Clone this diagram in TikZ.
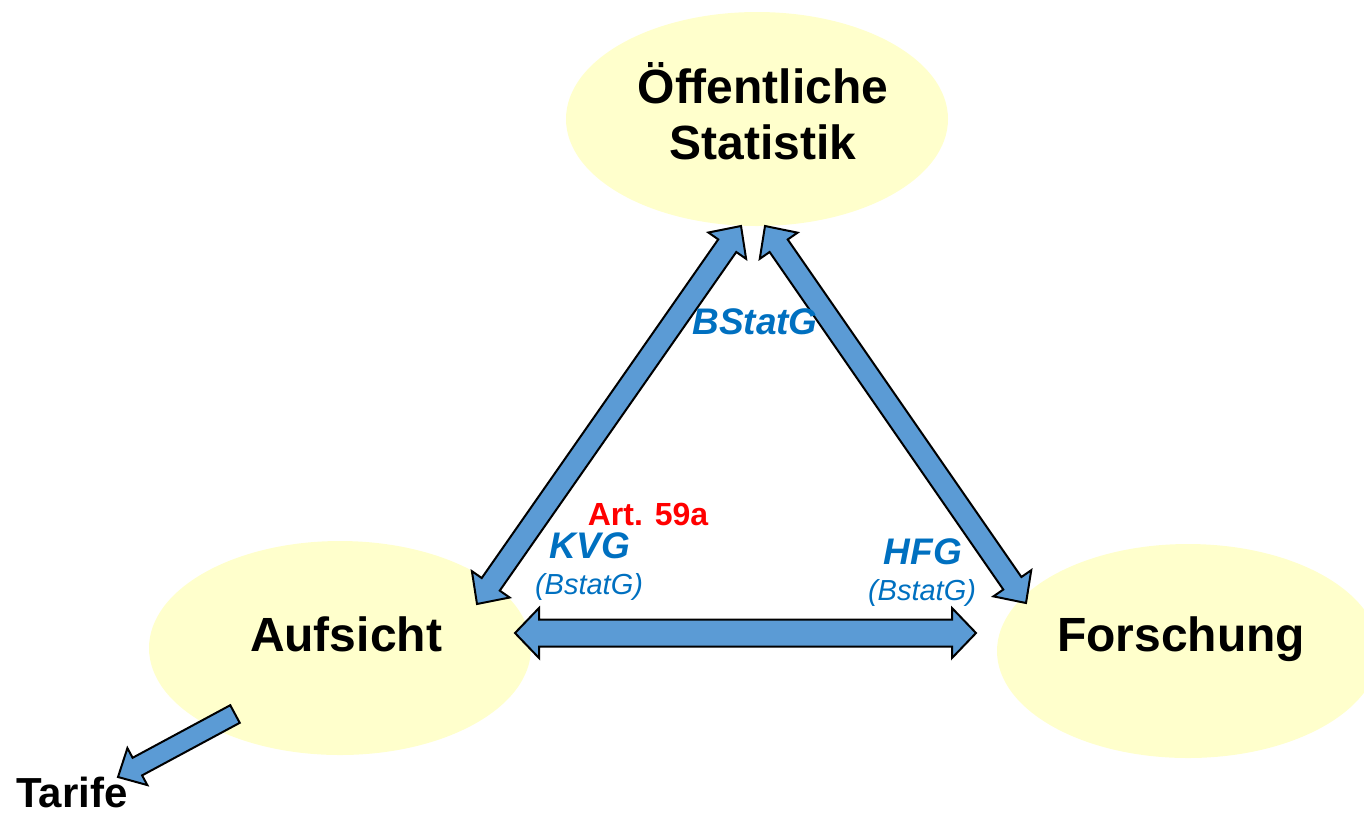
\documentclass[tikz,border=0pt]{standalone}
\usepackage{fontspec}
\setmainfont{Liberation Sans}
\usetikzlibrary{calc,shapes.geometric}

\definecolor{bubblefill}{HTML}{FFFFCC}
\definecolor{arrowblue}{HTML}{5B9BD5}
\definecolor{lawblue}{HTML}{0070C0}

% #1 end, #2 other end, #3 head length, #4 head half width, #5 shaft half width
\newcommand{\dblarrow}[5]{%
  \filldraw[blockarrow] (#1)
    -- ($(#1)!#3!(#2)!#4!90:(#2)$) -- ($(#1)!#3!(#2)!#5!90:(#2)$)
    -- ($(#2)!#3!(#1)!#5!-90:(#1)$) -- ($(#2)!#3!(#1)!#4!-90:(#1)$)
    -- (#2)
    -- ($(#2)!#3!(#1)!#4!90:(#1)$) -- ($(#2)!#3!(#1)!#5!90:(#1)$)
    -- ($(#1)!#3!(#2)!#5!-90:(#2)$) -- ($(#1)!#3!(#2)!#4!-90:(#2)$)
    -- cycle;}
% #1 tail, #2 tip, #3 head length, #4 head half width, #5 shaft half width
\newcommand{\onearrow}[5]{%
  \filldraw[blockarrow] (#2)
    -- ($(#2)!#3!(#1)!#4!90:(#1)$) -- ($(#2)!#3!(#1)!#5!90:(#1)$)
    -- ($(#1)!#5!-90:(#2)$) -- ($(#1)!#5!90:(#2)$)
    -- ($(#2)!#3!(#1)!#5!-90:(#1)$) -- ($(#2)!#3!(#1)!#4!-90:(#1)$)
    -- cycle;}

\begin{document}
\begin{tikzpicture}[
    x=0.5pt, y=-0.5pt,
    bubble/.style={
        ellipse,
        fill=bubblefill,
        minimum width=191pt,
        minimum height=107pt,
        inner sep=0pt
    },
    bubbletext/.style={align=center, font=\fontsize{24}{28}\selectfont\bfseries},
    blockarrow/.style={draw=black, fill=arrowblue, line width=1pt, line join=miter},
    law/.style={text=lawblue, font=\fontsize{18.5}{22}\selectfont\bfseries\itshape},
    lawref/.style={text=lawblue, font=\fontsize{14.5}{17}\selectfont\itshape},
    article/.style={text=red, font=\fontsize{16}{19}\selectfont\bfseries}
]
    \useasboundingbox (0,0) rectangle (1364,816);

    %% Bereiche
    \node[bubble, label={[bubbletext, xshift=3pt, yshift=4pt]center:Öffentliche\\Statistik}] (statistik) at (757,119) {};
    \node[bubble, label={[bubbletext, xshift=3pt, yshift=6.75pt]center:Aufsicht}] (aufsicht) at (340,648) {};
    \node[bubble, label={[bubbletext, xshift=-3.5pt, yshift=5.75pt]center:Forschung}] (forschung) at (1188,651) {};
    \node[font=\fontsize{21}{25}\selectfont\bfseries, inner sep=0pt] (tarife) at (72,792) {Tarife};

    %% Pfeilenden
    \coordinate (auf-ne) at (477,604);
    \coordinate (stat-sw) at (741,226);
    \coordinate (stat-se) at (765,226);
    \coordinate (fo-nw) at (1026,603);
    \coordinate (auf-e) at (515,633);
    \coordinate (fo-w) at (976,633);
    \coordinate (auf-sw) at (235,714);
    \coordinate (tarife-ne) at (118,777);

    %% Pfeile
    \dblarrow{auf-ne}{stat-sw}{12pt}{11.5pt}{5.5pt}
    \dblarrow{stat-se}{fo-nw}{12pt}{11.5pt}{5.5pt}
    \dblarrow{auf-e}{fo-w}{12pt}{12.5pt}{6.75pt}
    \onearrow{auf-sw}{tarife-ne}{11pt}{10.5pt}{5pt}

    %% Gesetze
    \node[law] (bstatg) at (755,322) {BStatG};
    \node[article] (art) at (648,514) {Art. 59a};
    \node[law] (kvg) at (590,546) {KVG};
    \node[lawref] (kvg-ref) at (589,587) {(BstatG)};
    \node[law] (hfg) at (923,552) {HFG};
    \node[lawref] (hfg-ref) at (922,593) {(BstatG)};
\end{tikzpicture}
\end{document}
